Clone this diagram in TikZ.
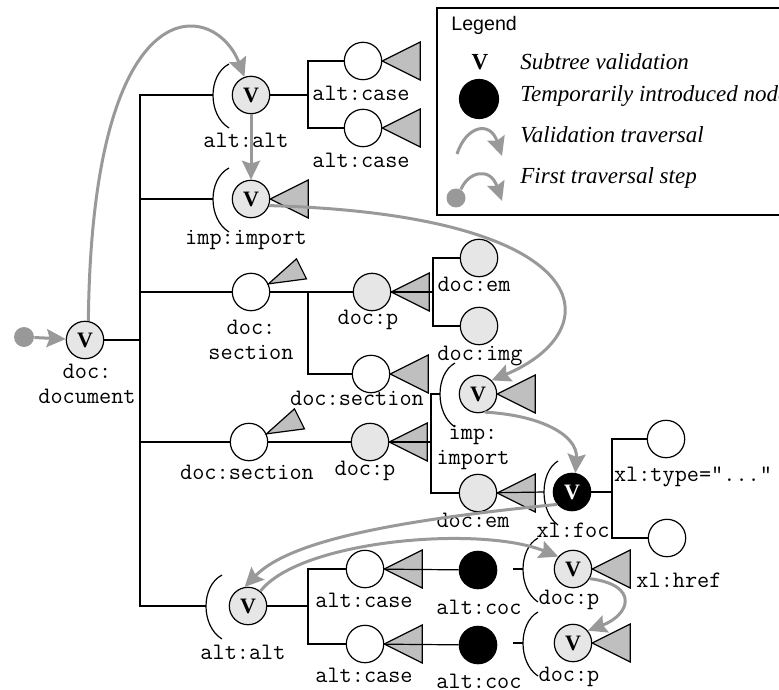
\documentclass[tikz,border=0pt]{standalone}
\usepackage{fontspec}
\setmainfont{Liberation Serif}
\newfontfamily\legendfont{Liberation Sans}
\usepackage{xcolor}
\definecolor{travgray}{RGB}{153,153,153}
\definecolor{trigray}{RGB}{191,191,191}
\definecolor{nodegray}{RGB}{230,230,230}
\usepackage{tikz}
\usetikzlibrary{arrows.meta}

% parenthesis in front of a node: node, end offset, middle offset
\newcommand{\subparen}[3]{%
  \coordinate (#1-p) at ([shift={(#3,0)}]#1.center);
  \draw[paren] ([shift={(#2,-31)}]#1.center)
    .. controls ([shift={({(4*(#3)-(#2))/3},-20)}]#1.center)
    and ([shift={({(4*(#3)-(#2))/3},20)}]#1.center)
    .. ([shift={(#2,33)}]#1.center);}
% subtree triangle pointing at a node
\newcommand{\subtri}[1]{\draw[tri] (#1.east) -- ++(38,-19) -- ++(0,38) -- cycle;}
\newcommand{\subtrislant}[1]{\draw[tri] (#1.25) -- ++(28,-25) -- ++(10,20) -- cycle;}

\begin{document}
\begin{tikzpicture}[x=0.5pt, y=-0.5pt,
    vnode/.style={circle, draw, line width=0.6pt, fill=nodegray, minimum size=18.7pt,
                  inner sep=0pt, font=\bfseries\fontsize{11}{11}\selectfont},
    elem/.style={circle, draw, line width=0.6pt, fill=white, minimum size=18.7pt, inner sep=0pt},
    telem/.style={elem, fill=nodegray},
    tmp/.style={elem, fill=black},
    lbl/.style={font=\ttfamily\fontsize{11.8}{12.5}\selectfont, align=center, inner sep=0pt},
    edge/.style={line width=0.6pt},
    tri/.style={draw, line width=0.6pt, fill=trigray},
    paren/.style={line width=0.6pt},
    trav/.style={draw=travgray, line width=1.5pt, -{Stealth[length=9.5pt, width=9pt, inset=1.5pt]}},
    legtxt/.style={anchor=west, font=\itshape\fontsize{11.5}{13}\selectfont, inner sep=0pt}]
\useasboundingbox (0,0) rectangle (779,689);
\clip (0,0) rectangle (779,689);

% tree nodes
\node[vnode] (docdoc) at (85,340) {V};
\node[vnode] (altalt) at (251,95) {V};
\node[elem] (case1) at (363,61) {};
\node[elem] (case2) at (363,128) {};
\node[vnode] (imp1) at (251,199) {V};
\node[elem] (sec1) at (251,292) {};
\node[telem] (par1) at (372,292) {};
\node[telem] (em1) at (479,258) {};
\node[telem] (img) at (479,326) {};
\node[elem] (sec11) at (371,374) {};
\node[vnode] (imp2) at (478,394) {V};
\node[elem] (sec2) at (249,442) {};
\node[telem] (par2) at (370,442) {};
\node[telem] (em2) at (478,493) {};
\node[vnode, fill=black, text=white] (foc) at (572,492) {V};
\node[elem] (type1) at (666,439) {};
\node[elem] (type2) at (667,538) {};
\node[vnode] (altalt2) at (248,606) {V};
\node[elem] (case3) at (365,569) {};
\node[elem] (case4) at (365,644) {};
\node[tmp] (coc1) at (478,570) {};
\node[tmp] (coc2) at (478,645) {};
\node[vnode] (par3) at (573,569) {V};
\node[vnode] (par4) at (573,643) {V};

% labels
\node[lbl] (l-docdoc) at (87,384) {doc:\\document};
\node[lbl] (l-altalt) at (246,140) {alt:alt};
\node[lbl] (l-case1) at (361,93) {alt:case};
\node[lbl] (l-case2) at (361,160) {alt:case};
\node[lbl] (l-imp1) at (246,240) {imp:import};
\node[lbl] (l-sec1) at (251,340) {doc:\\section};
\node[lbl] (l-par1) at (368,320) {doc:p};
\node[lbl] (l-em1) at (474,284) {doc:em};
\node[lbl] (l-img) at (480,356) {doc:img};
\node[lbl] (l-sec11) at (357,398) {doc:section};
\node[lbl] (l-imp2) at (473,448) {imp:\\import};
\node[lbl] (l-sec2) at (247,472) {doc:section};
\node[lbl] (l-par2) at (365,471) {doc:p};
\node[lbl] (l-em2) at (473,520) {doc:em};
\node[lbl] (l-foc) at (573,530) {xl:foc};
\node[lbl] (l-type) at (693,477) {xl:type="..."};
\node[lbl] (l-altalt2) at (243,652) {alt:alt};
\node[lbl] (l-case3) at (364,600) {alt:case};
\node[lbl] (l-case4) at (364,675) {alt:case};
\node[lbl] (l-coc1) at (479,607) {alt:coc};
\node[lbl] (l-coc2) at (479,681) {alt:coc};
\node[lbl] (l-par3) at (569,600) {doc:p};
\node[lbl] (l-par4) at (569,677) {doc:p};
\node[lbl] (l-href) at (679,580) {xl:href};

% parentheses and subtrees
\subparen{altalt}{-22}{-38}
\subparen{imp1}{-22}{-38}
\subparen{imp2}{-23}{-38}
\subparen{foc}{-14}{-28}
\subparen{altalt2}{-26}{-42}
\subparen{par3}{-35}{-50}
\subparen{par4}{-35}{-50}
\subtri{case1}
\subtri{case2}
\subtri{imp1}
\subtri{par1}
\subtri{sec11}
\subtri{imp2}
\subtri{par2}
\subtri{em2}
\subtri{case3}
\subtri{case4}
\subtri{par3}
\subtri{par4}
\subtrislant{sec1}
\subtrislant{sec2}

% junctions
\coordinate (jdoc) at (140,340);
\coordinate (jalt) at (308,95);
\coordinate (jsec) at (308,292);
\coordinate (jpar1) at (433,292);
\coordinate (jpar2) at (431,442);
\coordinate (jfoc) at (612,492);
\coordinate (jalt2) at (308,606);

% tree edges
\draw[edge] (docdoc) -- (jdoc);
\draw[edge] (altalt-p) -| (jdoc) |- (altalt2-p);
\draw[edge] (imp1-p) -- (imp1-p -| jdoc);
\draw[edge] (sec1) -- (sec1 -| jdoc);
\draw[edge] (sec2) -- (sec2 -| jdoc);
\draw[edge] (altalt) -- (jalt);
\draw[edge] (case1) -| (jalt) |- (case2);
\draw[edge] (sec1) -- (par1);
\draw[edge] (jsec) |- (sec11);
\draw[edge] (par1) -- (jpar1);
\draw[edge] (em1) -| (jpar1) |- (img);
\draw[edge] (sec2) -- (par2);
\draw[edge] (par2) -- (jpar2);
\draw[edge] (imp2-p) -| (jpar2) |- (em2);
\draw[edge] (em2) -- (foc-p);
\draw[edge] (foc) -- (jfoc);
\draw[edge] (type1) -| (jfoc) |- (type2);
\draw[edge] (altalt2) -- (jalt2);
\draw[edge] (case3) -| (jalt2) |- (case4);
\draw[edge] (case3) -- (coc1);
\draw[edge] (case4) -- (coc2);
\draw[edge] (par3-p) -- ++(-10,0);
\draw[edge] (par4-p) -- ++(-10,0);

% validation traversal
\node[circle, fill=travgray, minimum size=10pt, inner sep=0pt] (start) at (24,337) {};
\draw[trav] (start) -- (docdoc);
\draw[trav] (docdoc.80) .. controls (92,-20) and (215,0) .. (altalt.110);
\draw[trav] (altalt) -- (imp1);
\draw[trav] (imp1.-20) .. controls (600,215) and (612,330) .. (imp2.45);
\draw[trav] (imp2.-70) .. controls (540,415) and (578,435) .. (foc.80);
\draw[trav] (foc.-140) .. controls (400,520) and (290,540) .. (altalt2.100);
\draw[trav] (altalt2.50) .. controls (300,540) and (480,525) .. (par3.140);
\draw[trav] (par3.-30) .. controls (640,585) and (630,615) .. (par4.40);

% legend
\draw[line width=0.6pt] (437,8) rectangle (800,215);
\node[anchor=west, inner sep=0pt, font=\legendfont\fontsize{9.8}{11}\selectfont] (legtitle) at (451,25) {Legend};
\node[font=\bfseries\fontsize{11.5}{11.5}\selectfont] (legv) at (480,62) {V};
\node[tmp, minimum size=19.5pt] (legtmp) at (479,99) {};
\coordinate (legtravA) at (457,154);
\coordinate (legtravB) at (502,156);
\draw[trav] (legtravA) .. controls (466,126) and (490,120) .. (legtravB);
\node[circle, fill=travgray, minimum size=9.5pt, inner sep=0pt] (legstart) at (456,198) {};
\coordinate (legstepB) at (502,201);
\draw[trav] (legstart.60) .. controls (468,172) and (490,166) .. (legstepB);
\node[legtxt] (legt1) at (520,62) {Subtree validation};
\node[legtxt] (legt2) at (520,96) {Temporarily introduced node};
\node[legtxt] (legt3) at (520,135) {Validation traversal};
\node[legtxt] (legt4) at (520,178) {First traversal step};
\end{tikzpicture}
\end{document}
